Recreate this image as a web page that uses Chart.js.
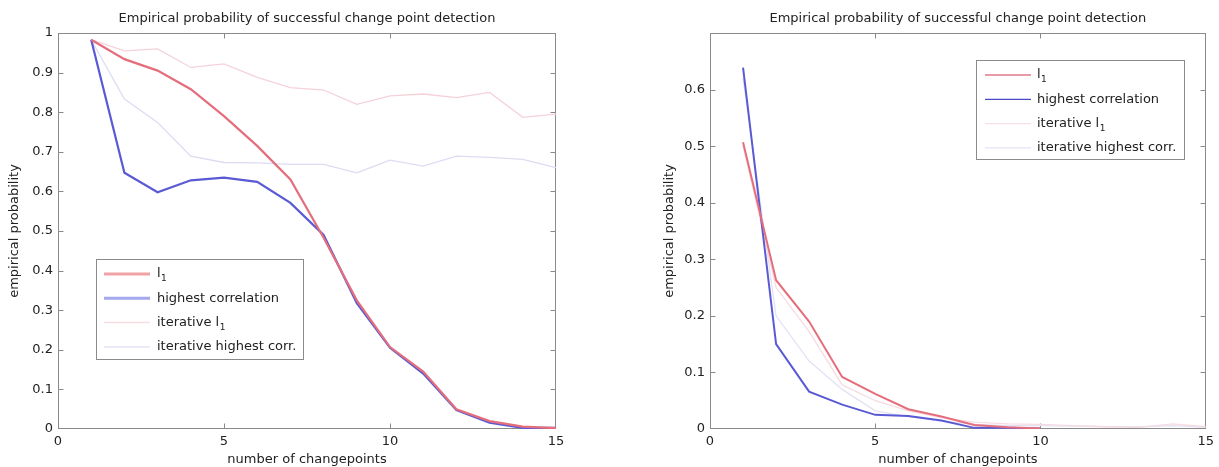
<!DOCTYPE html>
<html><head><meta charset="utf-8">
<script src="https://cdn.jsdelivr.net/npm/chart.js@4.4.0/dist/chart.umd.min.js"></script>
<style>
html,body{margin:0;padding:0;background:#fff;overflow:hidden;width:1219px;height:467px}
.box{position:absolute;top:0;height:467px}
</style></head><body>
<div class="box" style="left:0;width:609px"><canvas id="c1"></canvas></div>
<div class="box" style="left:609px;width:610px"><canvas id="c2"></canvas></div>
<script>
// ---- data ----
const changepoints = [1,2,3,4,5,6,7,8,9,10,11,12,13,14,15];
const seriesNames = ['l₁', 'highest correlation', 'iterative l₁', 'iterative highest corr.'];
const chartTitle = 'Empirical probability of successful change point detection';
const xTitle = 'number of changepoints';
const yTitle = 'empirical probability';
const xTickValues = [0,5,10,15];
const yTickValuesLeft = [0,0.1,0.2,0.3,0.4,0.5,0.6,0.7,0.8,0.9,1];
const yTickValuesRight = [0,0.1,0.2,0.3,0.4,0.5,0.6];

// left panel
const leftL1      = [0.983,0.934,0.905,0.858,0.790,0.715,0.630,0.483,0.325,0.207,0.145,0.050,0.020,0.006,0.002];
const leftHC      = [0.983,0.647,0.598,0.628,0.635,0.624,0.571,0.490,0.318,0.205,0.140,0.048,0.016,0.003,0.003];
const leftIterL1  = [0.983,0.955,0.960,0.913,0.922,0.888,0.862,0.856,0.820,0.841,0.846,0.837,0.850,0.787,0.795];
const leftIterHC  = [0.983,0.833,0.774,0.689,0.673,0.672,0.668,0.668,0.647,0.679,0.664,0.689,0.686,0.681,0.660];
// right panel
const rightL1     = [0.507,0.263,0.190,0.092,0.062,0.035,0.022,0.007,0.003,0.001,null,null,null,null,null];
const rightHC     = [0.639,0.150,0.066,0.043,0.025,0.023,0.015,0.002,0.002,0.001,null,null,null,null,null];
const rightIterL1 = [0.500,0.250,0.172,0.078,0.050,0.032,0.020,0.012,0.009,0.008,0.006,0.004,0.003,0.009,0.004];
const rightIterHC = [0.620,0.200,0.120,0.070,0.032,0.022,0.014,0.008,0.006,0.006,0.005,0.004,0.004,0.006,0.003];

// ---- styling / helpers ----
const FONT = "'DejaVu Sans', sans-serif";
const TXT = '#222';
const AX = '#8a8a8a';
const pts = arr => changepoints.map((x,i)=>({x, y: arr[i]}));

const frame = {
  id:'frame',
  beforeDatasetsDraw(chart){
    const {ctx, chartArea:a, scales:{x,y}} = chart;
    const L = Math.round(a.left)+0.5, R = Math.round(a.right)-0.5, T = Math.round(a.top)+0.5, B = Math.round(a.bottom)-0.5;
    ctx.save();
    ctx.strokeStyle = AX; ctx.lineWidth = 1;
    ctx.strokeRect(L, T, R-L, B-T);
    ctx.beginPath();
    x.ticks.forEach(t=>{
      const p = Math.round(x.getPixelForValue(t.value))+0.5;
      if (p > L+2 && p < R-2){ ctx.moveTo(p,B); ctx.lineTo(p,B-5); ctx.moveTo(p,T); ctx.lineTo(p,T+5); }
    });
    y.ticks.forEach(t=>{
      const p = Math.round(y.getPixelForValue(t.value))+0.5;
      if (p > T+2 && p < B-2){ ctx.moveTo(L,p); ctx.lineTo(L+5,p); ctx.moveTo(R,p); ctx.lineTo(R-5,p); }
    });
    ctx.stroke();
    ctx.restore();
  }
};

const boxLegend = {
  id:'boxLegend',
  afterDatasetsDraw(chart, args, o){
    const {ctx} = chart;
    ctx.save();
    ctx.fillStyle = '#fff'; ctx.fillRect(o.x, o.y, o.w, o.h);
    ctx.strokeStyle = AX; ctx.lineWidth = 1; ctx.strokeRect(o.x+0.5, o.y+0.5, o.w, o.h);
    chart.data.datasets.forEach((ds,i)=>{
      const cy = o.y + o.row0 + i*o.rowStep;
      ctx.strokeStyle = o.colors[i]; ctx.lineWidth = o.widths[i];
      ctx.beginPath(); ctx.moveTo(o.x+o.sx, cy); ctx.lineTo(o.x+o.sx+o.sl, cy); ctx.stroke();
      ctx.fillStyle = TXT; ctx.textBaseline = 'middle'; ctx.textAlign = 'left';
      ctx.font = '13px ' + FONT;
      let label = ds.label, tx = o.x + o.tx;
      if (label.endsWith('₁')){
        const base = label.slice(0,-1);
        ctx.fillText(base, tx, cy);
        const w = ctx.measureText(base).width;
        ctx.font = '9px ' + FONT;
        ctx.fillText('1', tx + w + 0.5, cy + 5);
      } else {
        ctx.fillText(label, tx, cy);
      }
    });
    ctx.restore();
  }
};

function makeChart(id, data4, yTicks, yMax, pad, yWidth, legend, lw, colors){
  const widths = [lw, lw, 1.3, 1.3];
  return new Chart(document.getElementById(id), {
    type:'line',
    data:{ datasets: data4.map((arr,i)=>({
      label: seriesNames[i], data: pts(arr), borderColor: colors[i], borderWidth: widths[i],
      pointRadius:0, tension:0, fill:false, spanGaps:false
    })) },
    options:{
      responsive:true, maintainAspectRatio:false, animation:false, devicePixelRatio:1,
      layout:{ padding: pad },
      plugins:{
        legend:{display:false}, tooltip:{enabled:false},
        title:{display:true, text: chartTitle, fullSize:false, color:TXT,
          font:{family:FONT, size:13, weight:'normal'}, padding:{top:11.2, bottom:6.2}},
        boxLegend: legend
      },
      scales:{
        x:{ type:'linear', min:0, max:15,
          afterBuildTicks: s => { s.ticks = xTickValues.map(v=>({value:v})); },
          afterFit: s => { s.height = 38; },
          grid:{display:false, drawTicks:false}, border:{display:false},
          ticks:{ padding:5, color:TXT, font:{family:FONT, size:13}, maxRotation:0, callback: v => String(v) },
          title:{ display:true, text:xTitle, color:TXT, font:{family:FONT, size:13}, padding:{top:0, bottom:0} }
        },
        y:{ type:'linear', min:0, max:yMax,
          afterBuildTicks: s => { s.ticks = yTicks.map(v=>({value:v})); },
          afterFit: s => { s.width = yWidth; },
          grid:{display:false, drawTicks:false}, border:{display:false},
          ticks:{ padding:5, color:TXT, font:{family:FONT, size:13}, callback: v => String(parseFloat(Number(v).toFixed(2))) },
          title:{ display:true, text:yTitle, color:TXT, font:{family:FONT, size:13}, padding:{top:7.2, bottom:0} }
        }
      }
    },
    plugins:[frame, boxLegend]
  });
}

makeChart('c1', [leftL1, leftHC, leftIterL1, leftIterHC], yTickValuesLeft, 1,
  {left:0, right:53, top:0, bottom:0}, 58,
  {x:96, y:259, w:207, h:100, sx:8, sl:46, tx:61, row0:15, rowStep:24.3,
   colors:['#f0a2a6','#a4a8ee','#f8dde2','#e4e4f6'], widths:[3,3,1.5,1.5]}, 2.2,
  ['#e46e7c', '#5a5ad4', '#f5d2d9', '#dcdcf4']);

makeChart('c2', [rightL1, rightHC, rightIterL1, rightIterHC], yTickValuesRight, 0.7,
  {left:46, right:10, top:0, bottom:0}, 55,
  {x:367, y:60, w:208, h:99, sx:9, sl:46, tx:61, row0:15, rowStep:24.3,
   colors:['#e07a8a','#4a4ac0','#f6e2e6','#e6e6f6'], widths:[1.3,1.3,1.2,1.2]}, 2,
  ['#e46e7c', '#5a5ad4', '#f7dbe0', '#e2e2f6']);
</script>
</body></html>
